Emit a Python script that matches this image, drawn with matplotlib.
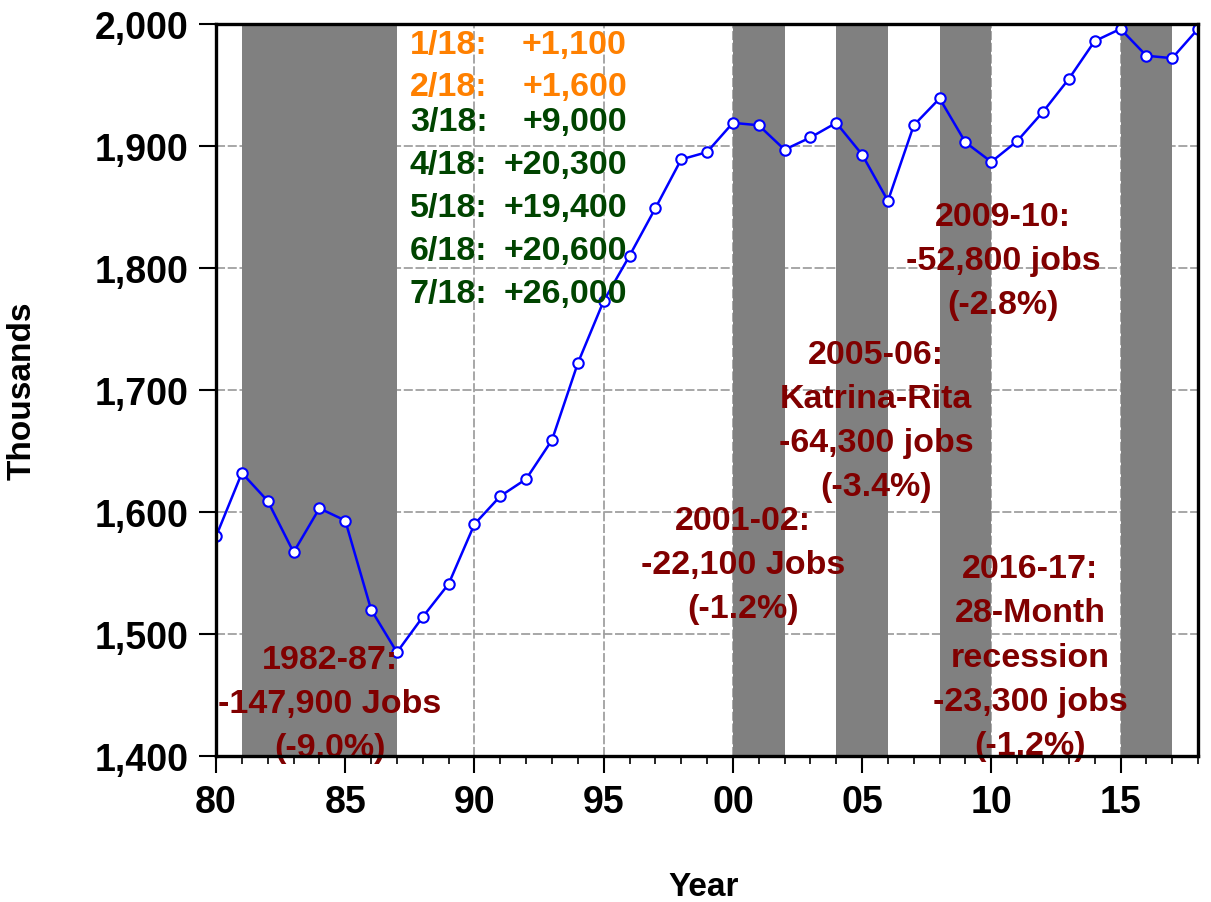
import numpy as np
import matplotlib
matplotlib.use("Agg")
import matplotlib.pyplot as plt
from matplotlib.ticker import MultipleLocator, FuncFormatter

plt.rcParams["font.family"] = ["Liberation Sans", "DejaVu Sans"]
plt.rcParams["font.weight"] = "bold"

# --- Data (thousands of jobs, annual) ---
years = np.arange(1980, 2019)
jobs = [1580, 1632, 1609, 1567, 1603, 1593, 1520, 1485, 1514, 1541,
        1590, 1613, 1627, 1659, 1722, 1773, 1810, 1849, 1889, 1895,
        1919, 1917, 1897, 1907, 1919, 1893, 1855, 1917, 1939, 1903,
        1887, 1904, 1928, 1955, 1986, 1996, 1974, 1972, 1996]

# recession periods (start, end)
recessions = [(1981, 1987), (2000, 2002), (2004, 2006), (2008, 2010), (2015, 2017)]

# monthly gains text block
month_labels = ["1/18:", "2/18:", "3/18:", "4/18:", "5/18:", "6/18:", "7/18:"]
month_values = ["+1,100", "+1,600", "+9,000", "+20,300", "+19,400", "+20,600", "+26,000"]
month_colors = ["#FF8000", "#FF8000", "#004400", "#004400", "#004400", "#004400", "#004400"]
month_y = [1983.5, 1949, 1920, 1885, 1850, 1814, 1779]

# recession annotations
notes = [
    ("1982-87:\n-147,900 Jobs\n(-9.0%)", 1984.4, 1443),
    ("2001-02:\n-22,100 Jobs\n(-1.2%)", 2000.4, 1557),
    ("2005-06:\nKatrina-Rita\n-64,300 jobs\n(-3.4%)", 2005.55, 1675),
    ("2009-10:\n-52,800 jobs\n(-2.8%)", 2010.45, 1806),
    ("2016-17:\n28-Month\nrecession\n-23,300 jobs\n(-1.2%)", 2011.5, 1481),
]

fig = plt.figure(figsize=(12.11, 9.03), dpi=100)
ax = fig.add_axes([0.1784, 0.1617, 0.8109, 0.8106])

# shaded recessions
for start, end in recessions:
    ax.axvspan(start, end, color="#808080", lw=0, zorder=1)

# employment line
ax.plot(years, jobs, color="#0000FF", lw=1.8, marker="o", markersize=7.5,
        markerfacecolor="white", markeredgecolor="#0000FF", markeredgewidth=1.5,
        zorder=3)

ax.set_xlim(1980, 2018)
ax.set_ylim(1400, 2000)

ax.xaxis.set_major_locator(MultipleLocator(5))
ax.xaxis.set_minor_locator(MultipleLocator(1))
ax.yaxis.set_major_locator(MultipleLocator(100))
ax.xaxis.set_major_formatter(FuncFormatter(lambda v, p: "%02d" % (int(round(v)) % 100)))
ax.yaxis.set_major_formatter(FuncFormatter(lambda v, p: "{:,.0f}".format(v)))

ax.grid(True, which="major", color="#a0a0a0", linestyle=(0, (5, 1.5)), lw=1.3, zorder=0)
ax.set_axisbelow(True)

ax.tick_params(axis="both", which="major", direction="out", length=12, width=1.5,
               labelsize=27, pad=8, color="black")
ax.tick_params(axis="x", which="minor", direction="out", length=6, width=1.2)
for lab in ax.get_xticklabels() + ax.get_yticklabels():
    lab.set_fontweight("bold")

for sp in ax.spines.values():
    sp.set_linewidth(2.4)
    sp.set_zorder(5)

ax.set_xlabel("Year", fontsize=24, fontweight="bold")
ax.set_ylabel("Thousands", fontsize=24, fontweight="bold")
ax.xaxis.set_label_coords(0.497, -0.157)
ax.yaxis.set_label_coords(-0.182, 0.5)

# monthly gains
for lab, val, col, y in zip(month_labels, month_values, month_colors, month_y):
    ax.text(1987.5, y, lab, color=col, fontsize=24.5, fontweight="bold",
            ha="left", va="center", zorder=4)
    ax.text(1995.9, y, val, color=col, fontsize=24.5, fontweight="bold",
            ha="right", va="center", zorder=4)

# recession notes
for txt, x, y in notes:
    ax.text(x, y, txt, color="#800000", fontsize=24.5, fontweight="bold",
            ha="center", va="center", multialignment="center",
            linespacing=1.55, zorder=4, clip_on=False)

fig.savefig("out.png", dpi=100)
